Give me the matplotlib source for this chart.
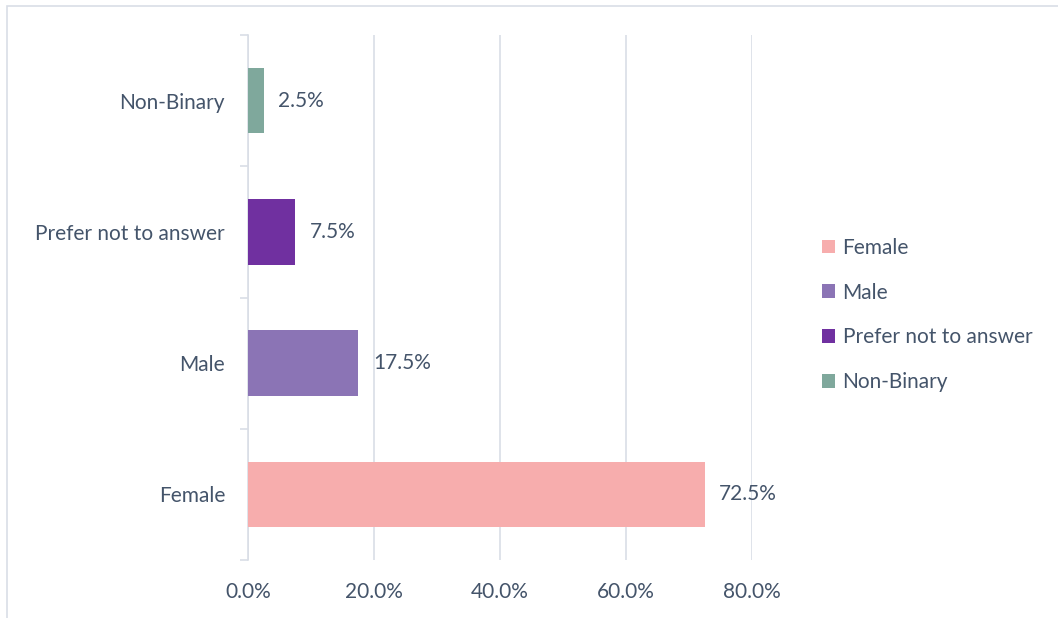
import matplotlib
matplotlib.use("Agg")
import matplotlib.pyplot as plt
from matplotlib.patches import Rectangle, Patch
from matplotlib.ticker import FuncFormatter, FixedLocator

categories = ["Female", "Male", "Prefer not to answer", "Non-Binary"]
shares = [0.725, 0.175, 0.075, 0.025]
colors = ["#F7ADAD", "#8B74B5", "#7030A0", "#7FA89C"]
x_ticks = [0.0, 0.2, 0.4, 0.6, 0.8]

text_color = "#44546A"
grid_color = "#D9DEE6"
fs = 15

plt.rcParams["font.family"] = ["Lato", "DejaVu Sans"]

fig = plt.figure(figsize=(10.58, 6.18), dpi=100)
ax = fig.add_axes([248 / 1058, 58 / 618, 504 / 1058, 525 / 618])

# outer chart border
fig.patches.append(Rectangle((7 / 1058, -0.05), 1.2, (618 - 6) / 618 + 0.05,
                             transform=fig.transFigure, fill=False,
                             edgecolor=grid_color, linewidth=1.2, zorder=0))

y = list(range(len(categories)))
bars = ax.barh(y, shares, height=0.5, color=colors, zorder=3)
for yi, v in zip(y, shares):
    ax.annotate(f"{v:.1%}", (v, yi), xytext=(10.5, 0), textcoords="offset points",
                ha="left", va="center", fontsize=fs, color=text_color)

ax.set_xlim(0, 0.8)
ax.set_ylim(-0.5, len(categories) - 0.5)
ax.set_xticks(x_ticks)
ax.xaxis.set_major_formatter(FuncFormatter(lambda v, p: f"{v * 100:.1f}%"))
ax.tick_params(axis="x", length=0, pad=16, labelsize=fs, labelcolor=text_color)
ax.grid(axis="x", color=grid_color, linewidth=1.2, zorder=0)

ax.set_yticks(y)
ax.set_yticklabels(categories)
ax.tick_params(axis="y", which="major", length=0, pad=16.5, labelsize=fs,
               labelcolor=text_color)
ax.yaxis.set_minor_locator(FixedLocator([i - 0.5 for i in range(len(categories) + 1)]))
ax.tick_params(axis="y", which="minor", length=6, width=1.2, color=grid_color,
               direction="out")

for s in ["top", "right", "bottom"]:
    ax.spines[s].set_visible(False)
ax.spines["left"].set_color(grid_color)
ax.spines["left"].set_linewidth(1.2)

handles = [Patch(facecolor=c, edgecolor="none") for c in colors]
fig.legend(handles, categories, loc="center left",
           bbox_to_anchor=(803 / 1058, (618 - 315) / 618), frameon=False,
           fontsize=fs, labelcolor=text_color, handlelength=0.65, handleheight=0.65,
           handletextpad=0.35, labelspacing=1.19)

fig.savefig("out.png", dpi=100)
